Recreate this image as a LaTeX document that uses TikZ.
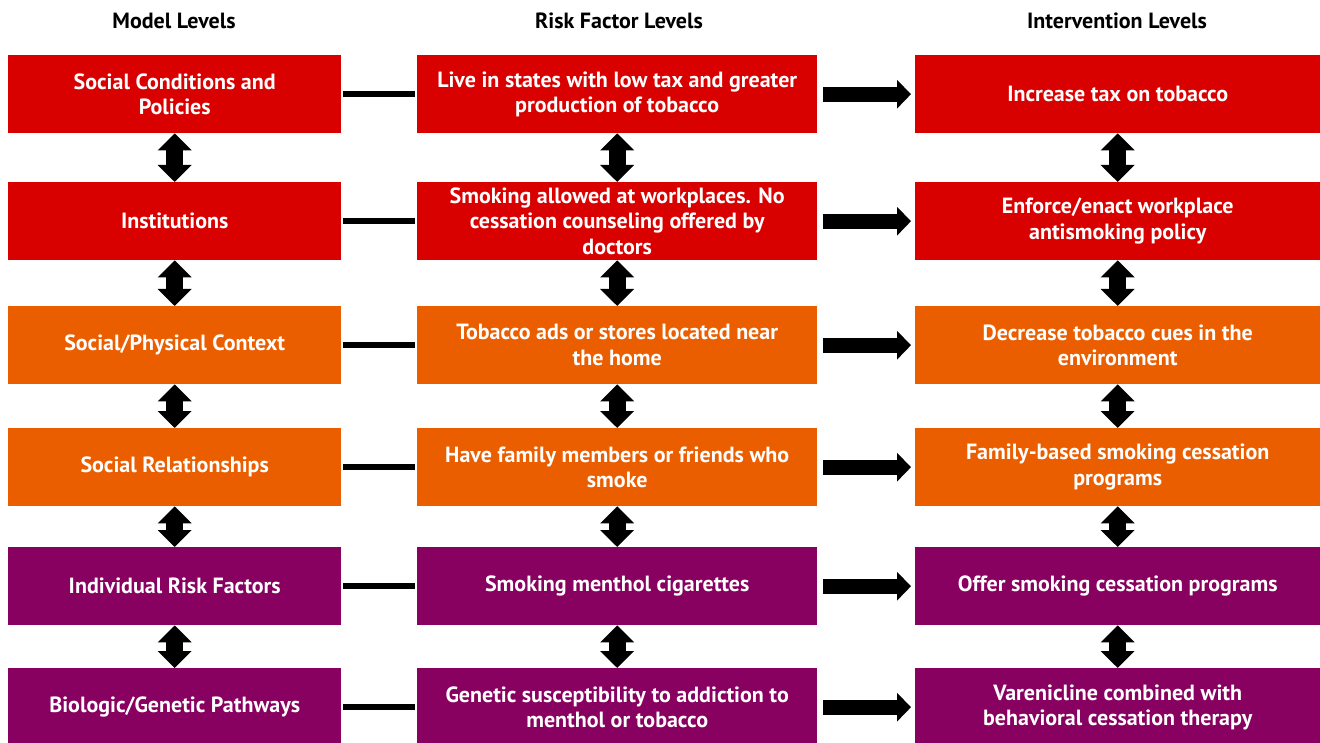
\documentclass[tikz,border=0pt]{standalone}
\usepackage{fontspec}
\setmainfont{PT Sans}
\usetikzlibrary{arrows.meta}
\definecolor{cred}{HTML}{D90000}
\definecolor{corange}{HTML}{EB5E00}
\definecolor{cpurple}{HTML}{880060}
\tikzset{
  box/.style={fill=#1, draw=none, text=white, font=\bfseries\fontsize{22}{25.5}\selectfont,
    align=center, inner sep=0pt, anchor=north west, minimum height=78pt},
  lbox/.style={box=#1, minimum width=333pt},
  mbox/.style={box=#1, minimum width=400pt},
  rbox/.style={box=#1, minimum width=405pt},
  hdr/.style={font=\bfseries\fontsize{22}{25}\selectfont, text=black, inner sep=0pt},
  link/.style={line width=6pt, draw=black},
  harrow/.style={line width=15pt, draw=black, -{Triangle[length=14pt,width=28pt]}},
  varrow/.style={line width=17pt, draw=black, {Triangle[length=17pt,width=33pt]}-{Triangle[length=17pt,width=33pt]}}
}
\begin{document}
\begin{tikzpicture}[x=1pt,y=-1pt]
\useasboundingbox (0,0) rectangle (1320,743);
\fill[white] (0,0) rectangle (1320,743);
% headers
\node[hdr] (h1) at (174,21) {Model Levels};
\node[hdr] (h2) at (619,21) {Risk Factor Levels};
\node[hdr] (h3) at (1117,21) {Intervention Levels};
% left column
\node[lbox=cred] (m1) at (8,55) {Social Conditions and\\Policies};
\node[lbox=cred] (m2) at (8,182) {Institutions};
\node[lbox=corange] (m3) at (8,306) {Social/Physical Context};
\node[lbox=corange] (m4) at (8,428) {Social Relationships};
\node[lbox=cpurple] (m5) at (8,547) {Individual Risk Factors};
\node[lbox=cpurple] (m6) at (8,668) {Biologic/Genetic Pathways};
% middle column
\node[mbox=cred] (r1) at (417,55) {Live in states with low tax and greater\\production of tobacco};
\node[mbox=cred] (r2) at (417,182) {Smoking allowed at workplaces. No\\cessation counseling offered by\\doctors};
\node[mbox=corange] (r3) at (417,306) {Tobacco ads or stores located near\\the home};
\node[mbox=corange] (r4) at (417,428) {Have family members or friends who\\smoke};
\node[mbox=cpurple] (r5) at (417,547) {Smoking menthol cigarettes};
\node[mbox=cpurple] (r6) at (417,668) {Genetic susceptibility to addiction to\\menthol or tobacco};
% right column
\node[rbox=cred] (i1) at (915,55) {Increase tax on tobacco};
\node[rbox=cred] (i2) at (915,182) {Enforce/enact workplace\\antismoking policy};
\node[rbox=corange] (i3) at (915,306) {Decrease tobacco cues in the\\environment};
\node[rbox=corange] (i4) at (915,428) {Family-based smoking cessation\\programs};
\node[rbox=cpurple] (i5) at (915,547) {Offer smoking cessation programs};
\node[rbox=cpurple] (i6) at (915,668) {Varenicline combined with\\behavioral cessation therapy};
% connectors
\foreach \k in {1,...,6}{
  \draw[link] ([xshift=2pt]m\k.east) -- ([xshift=-2pt]r\k.west);
  \draw[harrow] ([xshift=6pt]r\k.east) -- ([xshift=-4pt]i\k.west);
}
\foreach \a/\b in {1/2,2/3,3/4,4/5,5/6}{
  \draw[varrow] (m\a.south) -- (m\b.north);
  \draw[varrow] (r\a.south) -- (r\b.north);
  \draw[varrow] (i\a.south) -- (i\b.north);
}
\end{tikzpicture}
\end{document}
